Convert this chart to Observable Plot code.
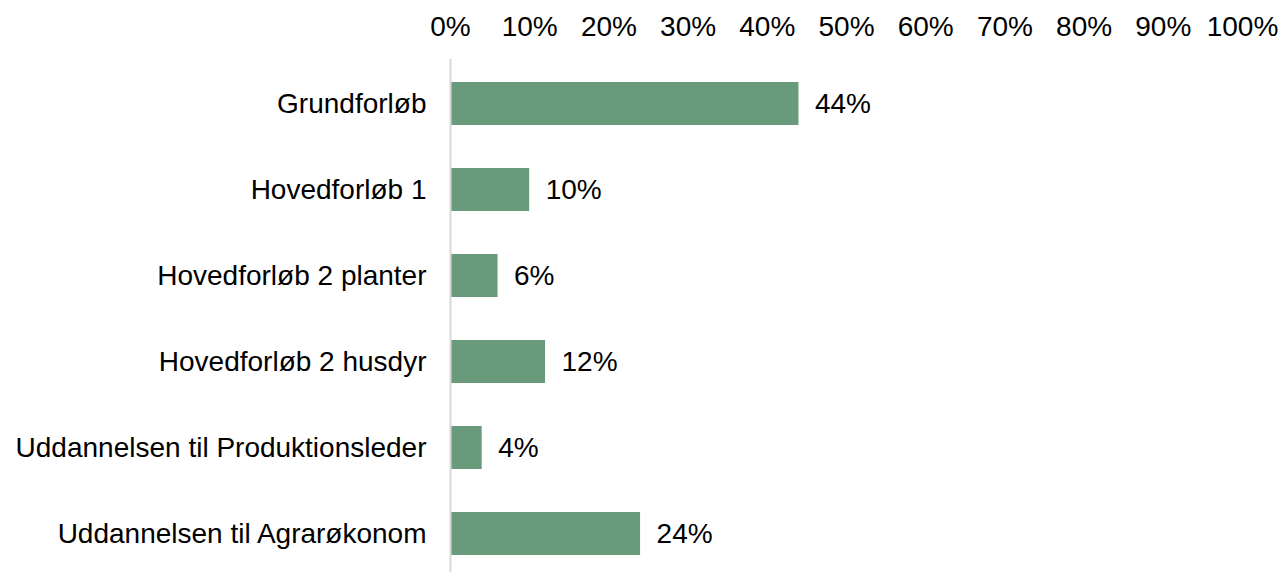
<!DOCTYPE html>
<html><head><meta charset="utf-8">
<script src="https://cdn.jsdelivr.net/npm/d3@7"></script>
<script src="https://cdn.jsdelivr.net/npm/@observablehq/plot@0.6"></script>
<style>
html,body{margin:0;padding:0;background:#fff;}
svg{display:block;}
</style>
</head><body>
<div id="chart"></div>
<script>
const categories = ["Grundforløb","Hovedforløb 1","Hovedforløb 2 planter","Hovedforløb 2 husdyr","Uddannelsen til Produktionsleder","Uddannelsen til Agrarøkonom"];
const values = [44, 10, 6, 12, 4, 24];
const xTicks = [0,10,20,30,40,50,60,70,80,90,100];

const data = categories.map((c,i)=>({cat:c, v:values[i]}));
const font = "Liberation Sans, Arial, sans-serif";
const fs = 28;

const chart = Plot.plot({
  width: 1283,
  height: 572,
  marginLeft: 450,
  marginRight: 41,
  marginTop: 59,
  marginBottom: 0,
  style: {fontFamily: font, fontSize: fs + "px", color: "#000", background: "#fff"},
  x: {domain: [0,100], range: [450, 1242]},
  y: {domain: categories, range: [59, 577], paddingInner: 0.5, paddingOuter: 0.25},
  marks: [
    Plot.axisX({anchor: "top", ticks: xTicks, tickSize: 0, tickPadding: 24, tickFormat: d => d + "%", label: null, fontSize: fs}),
    Plot.axisY({tickSize: 0, tickPadding: 24, label: null, fontSize: fs}),
    Plot.barX(data, {y: "cat", x: "v", fill: "#689a7b"}),
    Plot.ruleX([0], {stroke: "#d9d9d9", strokeWidth: 2}),
    Plot.text(data, {y: "cat", x: "v", text: d => d.v + "%", textAnchor: "start", dx: 16, fill: "#000", fontSize: fs})
  ]
});
document.getElementById("chart").appendChild(chart);
</script>
</body></html>
